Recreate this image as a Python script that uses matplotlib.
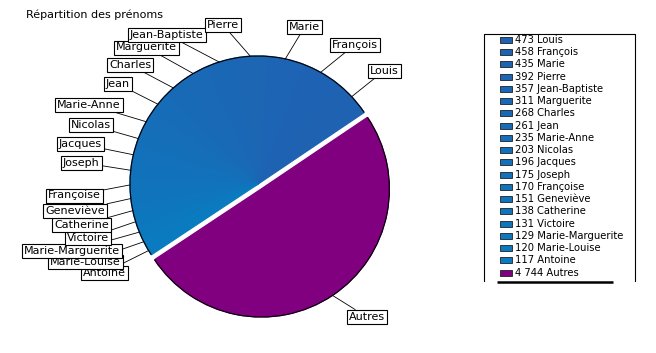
import matplotlib
matplotlib.use("Agg")
import matplotlib.pyplot as plt
import matplotlib.patches as mpatches
import numpy as np

plt.rcParams['font.family'] = ['DejaVu Sans']

# data
prenoms = ['Louis', 'François', 'Marie', 'Pierre', 'Jean-Baptiste', 'Marguerite',
           'Charles', 'Jean', 'Marie-Anne', 'Nicolas', 'Jacques', 'Joseph',
           'Françoise', 'Geneviève', 'Catherine', 'Victoire', 'Marie-Marguerite',
           'Marie-Louise', 'Antoine', 'Autres']
effectifs = [473, 458, 435, 392, 357, 311, 268, 261, 235, 203, 196, 175,
             170, 151, 138, 131, 129, 120, 117, 4744]
legend_txt = ['473', '458', '435', '392', '357', '311', '268', '261', '235', '203',
              '196', '175', '170', '151', '138', '131', '129', '120', '117', '4 744']
title = 'Répartition des prénoms'

# layout (image pixels, y downwards)
W, H = 656, 353
center = (258, H - 184)
radius = 128
label_pos = [
    (370, 70.5), (332, 44.5), (289, 27), (207, 25), (130, 34.5), (116, 47.5),
    (109, 65), (106, 84), (57, 104.5), (71, 125), (59, 144), (63, 162.5),
    (48, 195.5), (45, 211), (54, 225), (67, 238), (24, 251), (50, 262),
    (83, 272.5), (349, 317),
]

# colours: blue shades going from Louis to Antoine, purple for the rest
c0 = np.array([0x1f, 0x62, 0xb2]) / 255
c1 = np.array([0x0a, 0x7b, 0xc0]) / 255
n_blue = len(prenoms) - 1
colors = [tuple(c0 + (c1 - c0) * i / (n_blue - 1)) for i in range(n_blue)]
colors.append('#800080')

fig = plt.figure(figsize=(W / 100, H / 100), dpi=100)
ax = fig.add_axes([0, 0, 1, 1])

# explode is in data units here (radius is in pixels)
explode = [0] * n_blue + [6]
wedges, _ = ax.pie(effectifs, colors=colors, startangle=34, counterclock=True,
                   radius=radius, center=center, explode=explode,
                   wedgeprops=dict(linewidth=1.0))
for w in wedges:
    w.set_edgecolor(w.get_facecolor())

# outer outline of the two groups
blue_t1 = wedges[0].theta1
blue_t2 = wedges[n_blue - 1].theta2
ax.add_patch(mpatches.Arc(center, 2 * radius, 2 * radius, theta1=blue_t1, theta2=blue_t2,
                          color='black', lw=0.8, zorder=3))
pw = wedges[-1]
ax.add_patch(mpatches.Arc(pw.center, 2 * radius, 2 * radius, theta1=pw.theta1, theta2=pw.theta2,
                          color='black', lw=0.8, zorder=3))

# labels with leader lines
order = list(range(len(prenoms)))[::-1]
for k, i in enumerate(order):
    w = wedges[i]
    mid = np.deg2rad((w.theta1 + w.theta2) / 2)
    cx, cy = w.center
    xy = (cx + radius * np.cos(mid), cy + radius * np.sin(mid))
    lx, ly = label_pos[i]
    ax.annotate(prenoms[i], xy=xy, xytext=(lx, H - ly), ha='left', va='center',
                fontsize=8, zorder=5 + k,
                bbox=dict(boxstyle='square,pad=0.18', fc='white', ec='black', lw=0.8),
                arrowprops=dict(arrowstyle='-', color='black', lw=0.6,
                                shrinkA=0, shrinkB=0))

ax.text(26, H - 15, title, fontsize=8, ha='left', va='center')

# legend box
lx0, lx1, ly0, ly1 = 484, 635, 34, 281
ax.plot([lx0, lx0, lx1, lx1], [H - ly1, H - ly0, H - ly0, H - ly1], color='black', lw=0.8)
ax.plot([497, 613], [H - 282, H - 282], color='black', lw=1.8, solid_capstyle='butt')
row0, step = 40, 12.24
for i, name in enumerate(prenoms):
    y = H - (row0 + step * i)
    ax.add_patch(mpatches.Rectangle((500, y - 3), 12, 6, facecolor=colors[i],
                                    edgecolor='#202020', lw=0.6))
    ax.text(515, y, f'{legend_txt[i]} {name}', fontsize=7.2, ha='left', va='center')

ax.set_xlim(0, W)
ax.set_ylim(0, H)
ax.set_aspect('auto')
ax.axis('off')

fig.savefig('out.png', dpi=100)
